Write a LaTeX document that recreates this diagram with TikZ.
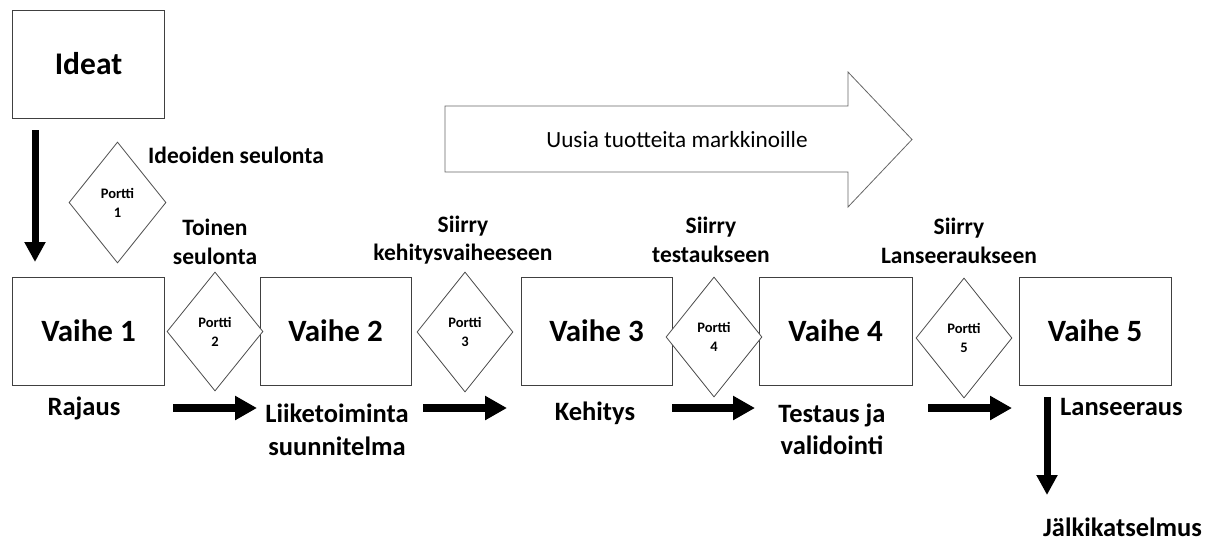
\documentclass[tikz,border=0pt]{standalone}
\usepackage{fontspec}
\setmainfont{Carlito}
\usetikzlibrary{shapes.geometric,arrows.meta}

\tikzset{
  stagebox/.style={draw=black!75, line width=1pt, fill=white, minimum width=152pt,
    minimum height=108pt, inner sep=0pt, font=\fontsize{31}{36}\selectfont\bfseries},
  gate/.style={diamond, draw=black!70, line width=0.8pt, fill=white, minimum width=96pt,
    minimum height=120pt, inner sep=0pt, align=center,
    font=\fontsize{14.5}{19}\selectfont\bfseries},
  toplabel/.style={align=center, inner sep=0pt, font=\fontsize{23.5}{28.5}\selectfont\bfseries},
  lowlabel/.style={align=center, inner sep=0pt, font=\fontsize{26.5}{33}\selectfont\bfseries},
  flowarrow/.style={line width=7.5pt, -{Triangle[width=23pt,length=22pt]}},
  droparrow/.style={line width=7pt, -{Triangle[width=20pt,length=20pt]}},
}

\begin{document}
\begin{tikzpicture}[x=1pt,y=-1pt]
  \useasboundingbox (0,0) rectangle (1216,542);

  % big block arrow
  \draw[draw=black!60, line width=0.8pt, fill=white]
    (445,106) -- (848,106) -- (848,72) -- (912,139.5) -- (848,207) -- (848,172) -- (445,172) -- cycle;
  \node[inner sep=0pt, font=\fontsize{23.2}{28}\selectfont] (market) at (677,140) {Uusia tuotteita markkinoille};

  % ideas box and stages
  \node[stagebox, font=\fontsize{31.5}{36}\selectfont\bfseries] (ideat) at (88.5,64) {Ideat};
  \node[stagebox] (v1) at (88.5,331) {Vaihe 1};
  \node[stagebox, minimum width=151pt] (v2) at (335.5,331) {Vaihe 2};
  \node[stagebox, minimum width=151pt] (v3) at (596.5,331) {Vaihe 3};
  \node[stagebox, minimum width=153pt] (v4) at (835.5,331) {Vaihe 4};
  \node[stagebox] (v5) at (1095,331) {Vaihe 5};

  % gates
  \node[gate, minimum width=97pt, minimum height=121pt] (p1) at (117.5,202.5) {Portti\\1};
  \node[gate, minimum height=119pt] (p2) at (215,331.5) {Portti\\2};
  \node[gate] (p3) at (465,332) {Portti\\3};
  \node[gate] (p4) at (714,337) {Portti\\4};
  \node[gate] (p5) at (964,338) {Portti\\5};

  % labels above the gates
  \node[toplabel, anchor=west] (l1) at (148,155) {Ideoiden seulonta};
  \node[toplabel] (l2) at (215,242) {Toinen\\seulonta};
  \node[toplabel] (l3) at (463,240) {Siirry\\kehitysvaiheeseen};
  \node[toplabel] (l4) at (711,240) {Siirry\\testaukseen};
  \node[toplabel] (l5) at (959,241) {Siirry\\Lanseeraukseen};

  % labels below the stages
  \node[lowlabel] (s1) at (84,408) {Rajaus};
  \node[lowlabel] (s2) at (337,429.5) {Liiketoiminta\\suunnitelma};
  \node[lowlabel] (s3) at (595,413) {Kehitys};
  \node[lowlabel, font=\fontsize{26.5}{32}\selectfont\bfseries] (s4) at (832,429) {Testaus ja\\validointi};
  \node[lowlabel, anchor=west] (s5) at (1060,407) {Lanseeraus};
  \node[lowlabel, anchor=west] (s6) at (1043,527) {Jälkikatselmus};

  % arrow end points
  \coordinate (d1a) at (35,130);   \coordinate (d1b) at (35,262);
  \coordinate (h1a) at (173,408);  \coordinate (h1b) at (257,408);
  \coordinate (h2a) at (423,408);  \coordinate (h2b) at (507,408);
  \coordinate (h3a) at (672,408);  \coordinate (h3b) at (755,408);
  \coordinate (h4a) at (928,408);  \coordinate (h4b) at (1012,408);
  \coordinate (d2a) at (1047,397); \coordinate (d2b) at (1047,495);

  \draw[droparrow] (d1a) -- (d1b);
  \draw[flowarrow] (h1a) -- (h1b);
  \draw[flowarrow] (h2a) -- (h2b);
  \draw[flowarrow] (h3a) -- (h3b);
  \draw[flowarrow] (h4a) -- (h4b);
  \draw[droparrow] (d2a) -- (d2b);
\end{tikzpicture}
\end{document}
